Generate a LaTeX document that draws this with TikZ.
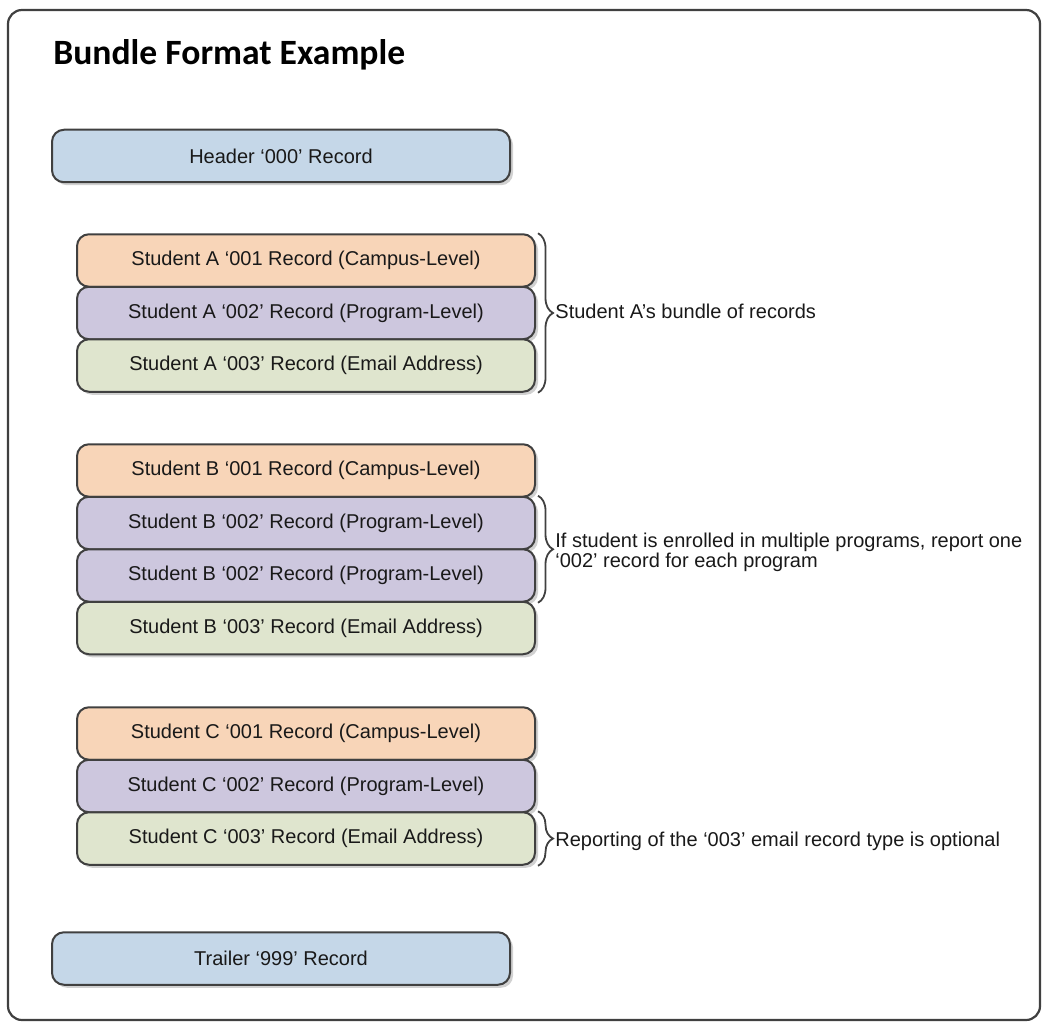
\documentclass[tikz,border=0pt]{standalone}
\usepackage{fontspec}
\setmainfont{Liberation Sans}
\newfontfamily\titlefont{Carlito}
\usepackage{tikz}
\usetikzlibrary{shadows}
\usetikzlibrary{decorations.pathreplacing}
\usepackage{xcolor}
\definecolor{edgegray}{RGB}{64,64,64}
\definecolor{hdrblue}{RGB}{197,215,232}
\definecolor{campus}{RGB}{248,213,184}
\definecolor{program}{RGB}{205,199,222}
\definecolor{email}{RGB}{223,229,206}

\begin{document}
\begin{tikzpicture}[x=0.5pt,y=-0.5pt,
  rec/.style={draw=edgegray, line width=1pt, rounded corners=6pt,
    minimum width=229pt, minimum height=26.25pt, inner sep=0pt,
    font=\fontsize{10}{12}\selectfont, text=black!90,
    drop shadow={shadow xshift=1.5pt, shadow yshift=-1.5pt, fill=black, opacity=0.18}},
  bracket/.style={decorate, decoration={brace, amplitude=7.5pt}, draw=edgegray, line width=0.9pt},
  note/.style={anchor=west, font=\fontsize{10}{10}\selectfont, align=left, inner sep=0pt, text=black!90}]
\useasboundingbox (0,0) rectangle (1047,1027);
\draw [edgegray, line width=1.1pt, rounded corners=7pt] (8,10) rectangle (1040,1020);
\node (title) [anchor=west, inner sep=0pt, font=\titlefont\bfseries\fontsize{17.8}{20}\selectfont] at (53,55) {Bundle Format Example};

% header and trailer
\node (hdr) [rec, fill=hdrblue] at (281,156) {Header ‘000’ Record};
\node (trl) [rec, fill=hdrblue] at (281,958.5) {Trailer ‘999’ Record};

% student A
\node (a1) [rec, fill=campus] at (306,260.5) {Student A ‘001 Record (Campus-Level)};
\node (a2) [rec, fill=program] at (306,313) {Student A ‘002’ Record (Program-Level)};
\node (a3) [rec, fill=email] at (306,365.5) {Student A ‘003’ Record (Email Address)};

% student B
\node (b1) [rec, fill=campus] at (306,470.5) {Student B ‘001 Record (Campus-Level)};
\node (b2) [rec, fill=program] at (306,523) {Student B ‘002’ Record (Program-Level)};
\node (b3) [rec, fill=program] at (306,575.5) {Student B ‘002’ Record (Program-Level)};
\node (b4) [rec, fill=email] at (306,628) {Student B ‘003’ Record (Email Address)};

% student C
\node (c1) [rec, fill=campus] at (306,733.5) {Student C ‘001 Record (Campus-Level)};
\node (c2) [rec, fill=program] at (306,786) {Student C ‘002’ Record (Program-Level)};
\node (c3) [rec, fill=email] at (306,838.5) {Student C ‘003’ Record (Email Address)};

% braces
\draw [bracket] ([xshift=1pt]a1.north east) -- ([xshift=1pt]a3.south east);
\draw [bracket] ([xshift=1pt]b2.north east) -- ([xshift=1pt]b3.south east);
\draw [bracket] ([xshift=1pt]c3.north east) -- ([xshift=1pt]c3.south east);
\node (noteA) [note] at (555,311) {Student A’s bundle of records};
\node (noteB) [note] at (555,552) {If student is enrolled in multiple programs, report one\\‘002’ record for each program};
\node (noteC) [note] at (555,841) {Reporting of the ‘003’ email record type is optional};
\end{tikzpicture}
\end{document}
